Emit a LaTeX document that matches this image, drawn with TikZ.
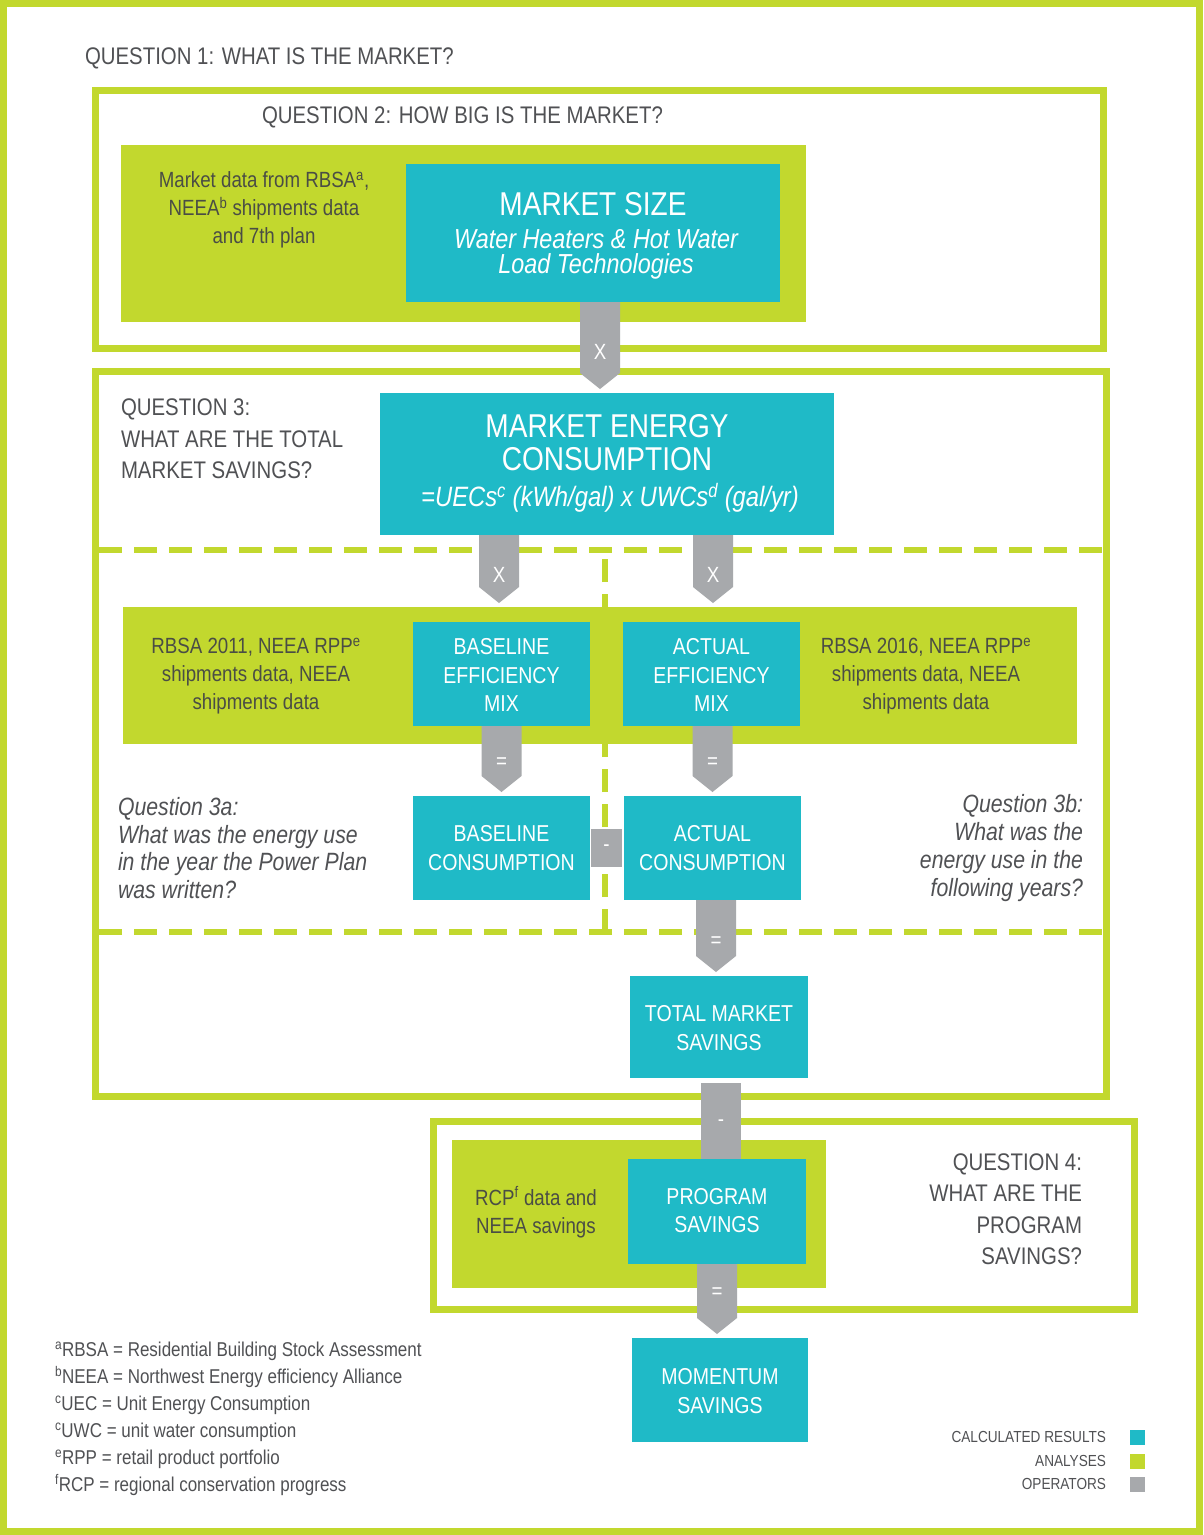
\documentclass[tikz,border=0pt]{standalone}
\usepackage{fontspec}
\setmainfont{Liberation Sans}[FakeStretch=0.85]
\usetikzlibrary{fit,calc}
\definecolor{gr}{HTML}{C2D82E}
\definecolor{tl}{HTML}{1FBAC7}
\definecolor{opc}{HTML}{A7A9AC}
\definecolor{tx}{HTML}{505154}
\definecolor{atx}{HTML}{4A4D45}
\newcommand\fs[2]{\fontsize{#1}{#2}\selectfont}
\newcommand\sups[1]{\textsuperscript{#1}}
% operator arrow: src, dst, xshift, tip gap, label, label offset
\newcommand\oparr[6]{%
  \fill[opc] let \p1=(#1.south), \p2=(#2.north) in
    (\x2+#3pt-20pt,\y1) -- (\x2+#3pt+20pt,\y1) -- (\x2+#3pt+20pt,\y2+#4pt+16pt)
    -- (\x2+#3pt,\y2+#4pt) -- (\x2+#3pt-20pt,\y2+#4pt+16pt) -- cycle;
  \path let \p1=(#1.south), \p2=(#2.north) in
    node[optext] (#1-#2) at (\x2+#3pt,\y1-#6pt) {#5};
}
\begin{document}
\begin{tikzpicture}[x=1pt,y=-1pt,
  every node/.style={inner sep=0pt,outer sep=0pt},
  frame/.style={draw=gr,line width=7pt},
  tbox/.style={fill=tl},
  ttext/.style={text=white,align=center,font=\fs{23}{28.5}},
  gbox/.style={fill=gr},
  qtext/.style={text=tx,font=\fs{24}{31.5}},
  atext/.style={text=atx,align=center,font=\fs{22}{28}},
  optext/.style={text=white,font=\fs{22}{22}},
  dline/.style={draw=gr,line width=6pt,dash pattern=on 23pt off 12pt}]
\useasboundingbox (0,0) rectangle (1203,1535);
\fill[white] (0,0) rectangle (1203,1535);

% frames
\node[frame,fit={(3.5,3.5)(1199.5,1531.5)}] (outer) {};
\node[frame,fit={(95.5,90.5)(1103.5,348.5)}] (q2f) {};
\node[frame,fit={(95.5,371.5)(1106.5,1096.5)}] (q3f) {};
\node[frame,fit={(433.5,1121.5)(1134.5,1309.5)}] (q4f) {};

% dashed separators
\draw[dline] (99,550) -- (1103,550);
\draw[dline] (99,932) -- (1103,932);
\draw[dline] (605,932) -- (605,550);

% analyses
\node[gbox,fit={(121,145)(806,322)}] (an1) {};
\node[gbox,fit={(123,607)(1077,744)}] (an2) {};
\node[gbox,fit={(452,1140)(826,1288)}] (an3) {};

% calculated results
\node[tbox,fit={(406,164)(780,302)}] (ms) {};
\node[tbox,fit={(380,393)(834,535)}] (mec) {};
\node[tbox,fit={(413,622)(590,726)}] (be) {};
\node[tbox,fit={(623,622)(800,726)}] (ae) {};
\node[tbox,fit={(413,796)(590,900)}] (bc) {};
\node[tbox,fit={(624,796)(801,900)}] (ac) {};
\node[tbox,fit={(630,976)(808,1078)}] (tms) {};
\node[tbox,fit={(628,1159)(806,1264)}] (ps) {};
\node[tbox,fit={(632,1338)(808,1442)}] (mom) {};

\node[ttext] (be-t) at ([yshift=-1pt]be.center) {BASELINE\\EFFICIENCY\\MIX};
\node[ttext] (ae-t) at ([yshift=-1pt]ae.center) {ACTUAL\\EFFICIENCY\\MIX};
\node[ttext] (bc-t) at (bc.center) {BASELINE\\CONSUMPTION};
\node[ttext] (ac-t) at (ac.center) {ACTUAL\\CONSUMPTION};
\node[ttext] (tms-t) at ([yshift=-1pt]tms.center) {TOTAL MARKET\\SAVINGS};
\node[ttext] (ps-t) at ([yshift=1pt]ps.center) {PROGRAM\\SAVINGS};
\node[ttext] (mom-t) at ([yshift=-1pt]mom.center) {MOMENTUM\\SAVINGS};

\node[text=white,font=\fs{33}{33}] (mstitle) at (593,204) {MARKET SIZE};
\node[text=white,align=center,font=\fs{27.5}{25}\itshape] (mssub) at (596,254) {Water Heaters \& Hot Water\\Load Technologies};
\node[text=white,align=center,font=\fs{33}{33}] (mectitle) at (607,443) {MARKET ENERGY\\CONSUMPTION};
\node[text=white,font=\fs{28}{28}\itshape] (mecsub) at (610,498) {=UECs\sups{c} (kWh/gal) x UWCs\sups{d} (gal/yr)};

% operators
\oparr{ms}{mec}{-7}{4}{X}{50}
\oparr{mec}{be}{-2.5}{19}{X}{40}
\oparr{mec}{ae}{1.5}{19}{X}{40}
\oparr{be}{bc}{0}{4}{=}{37}
\oparr{ae}{ac}{0}{4}{=}{37}
\oparr{ac}{tms}{-3}{4}{=}{42}
\oparr{ps}{mom}{-3}{4}{=}{29}
\fill[opc] let \p1=(tms.south), \p2=(ps.north) in (\x1-18pt,\y1-5pt) rectangle (\x1+22pt,\y2);
\path let \p1=(tms.south) in node[optext] (tms-ps) at (\x1+2pt,\y1-45pt) {-};
\node[fill=opc,minimum width=31pt,minimum height=38pt,text=white,font=\fs{22}{22}] (minus) at (606.5,848) {-};

% question texts
\node[qtext,anchor=west] (q1) at (85,58) {QUESTION 1: WHAT IS THE MARKET?};
\node[qtext,anchor=west] (q2) at (262,117) {QUESTION 2: HOW BIG IS THE MARKET?};
\node[qtext,anchor=west,align=left] (q3) at (121,439) {QUESTION 3:\\WHAT ARE THE TOTAL\\MARKET SAVINGS?};
\node[qtext,anchor=east,align=right] (q4) at (1082,1209) {QUESTION 4:\\WHAT ARE THE\\PROGRAM\\SAVINGS?};
\node[text=tx,anchor=west,align=left,font=\fs{25}{27.7}\itshape] (q3a) at (118,848) {Question 3a:\\What was the energy use\\in the year the Power Plan\\was written?};
\node[text=tx,anchor=east,align=right,font=\fs{25}{27.7}\itshape] (q3b) at (1083,848) {Question 3b:\\What was the\\energy use in the\\following years?};

% analysis texts
\node[atext] (an1t) at (264,210) {Market data from RBSA\sups{a},\\NEEA\sups{b} shipments data\\and 7th plan};
\node[atext] (an2l) at (256,676) {RBSA 2011, NEEA RPP\sups{e}\\shipments data, NEEA\\shipments data};
\node[atext] (an2r) at (926,676) {RBSA 2016, NEEA RPP\sups{e}\\shipments data, NEEA\\shipments data};
\node[atext] (an3t) at (536,1212) {RCP\sups{f} data and\\NEEA savings};

% footnotes
\node[text=tx,anchor=west,align=left,font=\fs{20}{27}] (notes) at (55,1419) {%
\sups{a}RBSA = Residential Building Stock Assessment\\
\sups{b}NEEA = Northwest Energy efficiency Alliance\\
\sups{c}UEC = Unit Energy Consumption\\
\sups{c}UWC = unit water consumption\\
\sups{e}RPP = retail product portfolio\\
\sups{f}RCP = regional conservation progress};

% legend
\node[text=tx,anchor=east,align=right,font=\fs{16}{23.5}] (legt) at (1106,1460.5) {CALCULATED RESULTS\\ANALYSES\\OPERATORS};
\node[fill=tl,minimum size=15pt] (legc) at (1137.5,1437) {};
\node[fill=gr,minimum size=15pt] (lega) at (1137.5,1461) {};
\node[fill=opc,minimum size=15pt] (lego) at (1137.5,1484) {};
\end{tikzpicture}
\end{document}
